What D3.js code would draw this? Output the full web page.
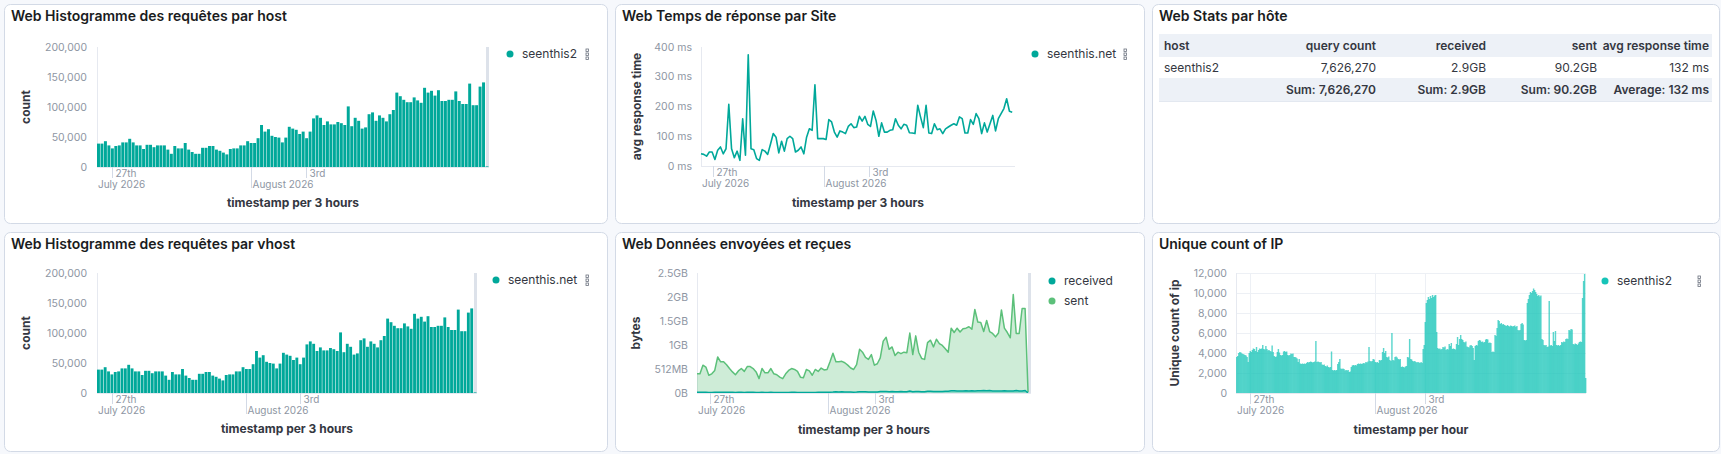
<!DOCTYPE html>
<html>
<head>
<meta charset="utf-8">
<script src="https://cdn.jsdelivr.net/npm/d3@7"></script>
<style>
body { margin: 0; background: #f6f8fc; }
svg text { font-family: Inter, "Noto Sans", sans-serif; }
</style>
</head>
<body>
<svg id="dash" width="1721" height="454"></svg>
<script>
// 3-hour buckets, starting 26 July 2026 11:00
var requestCounts = [39000, 39000, 43000, 36000, 31000, 35000, 36000, 41000, 41000, 47000,
    41000, 36000, 36000, 30000, 37000, 37000, 33000, 36000, 36000, 36000,
    29000, 22000, 35000, 31000, 31000, 40000, 29000, 25000, 22000, 22000,
    32000, 32000, 35000, 35000, 29000, 27000, 24000, 21000, 30000, 31000,
    31000, 36000, 36000, 43000, 40000, 40000, 48000, 70000, 59000, 63000,
    52000, 50000, 49000, 41000, 49000, 67000, 64000, 62000, 55000, 59000,
    48000, 59000, 81000, 86000, 82000, 70000, 76000, 71000, 71000, 75000,
    73000, 70000, 101000, 68000, 82000, 77000, 64000, 66000, 88000, 91000,
    77000, 86000, 82000, 76000, 88000, 95000, 124000, 118000, 112000, 108000,
    108000, 116000, 111000, 107000, 132000, 124000, 127000, 119000, 128000, 110000,
    110000, 112000, 112000, 126000, 110000, 105000, 105000, 139000, 103000, 103000,
    134000, 141000, 1000];

var responseTimes = [41, 39, 33, 47, 47, 22, 53, 64, 41, 58,
    207, 58, 28, 50, 19, 159, 36, 374, 58, 55,
    25, 19, 55, 50, 39, 73, 109, 97, 44, 83,
    50, 92, 100, 92, 47, 53, 64, 41, 97, 125,
    120, 273, 92, 92, 92, 89, 156, 148, 114, 97,
    118, 114, 109, 133, 142, 129, 131, 167, 151, 167,
    140, 133, 185, 153, 100, 145, 114, 114, 120, 122,
    159, 137, 125, 140, 137, 112, 111, 109, 204, 165,
    129, 204, 111, 109, 142, 122, 125, 109, 125, 131,
    137, 142, 137, 165, 159, 111, 111, 156, 140, 176,
    159, 109, 145, 114, 142, 170, 118, 159, 176, 193,
    226, 184, 181];

// GiB per bucket
var sentBytes = [0.40, 0.40, 0.58, 0.54, 0.37, 0.40, 0.47, 0.75, 0.65, 0.65,
    0.59, 0.51, 0.44, 0.38, 0.46, 0.51, 0.45, 0.55, 0.55, 0.51,
    0.44, 0.30, 0.51, 0.42, 0.42, 0.51, 0.40, 0.38, 0.33, 0.30,
    0.40, 0.47, 0.51, 0.49, 0.45, 0.33, 0.32, 0.49, 0.46, 0.37,
    0.49, 0.45, 0.52, 0.48, 0.49, 0.65, 0.83, 0.65, 0.65, 0.66,
    0.63, 0.58, 0.52, 0.49, 0.59, 0.91, 0.85, 0.74, 0.70, 0.80,
    0.58, 0.61, 0.73, 1.08, 1.16, 0.91, 0.96, 0.78, 0.85, 0.82,
    0.85, 0.84, 1.25, 0.80, 1.19, 0.85, 0.72, 0.70, 1.05, 1.10,
    0.96, 1.12, 1.03, 0.99, 0.92, 0.85, 1.35, 1.26, 1.35, 1.27,
    1.34, 1.35, 1.38, 1.33, 1.74, 1.48, 1.47, 1.28, 1.51, 1.28,
    1.24, 1.17, 1.25, 1.73, 1.35, 1.26, 1.15, 2.05, 1.24, 1.24,
    1.76, 1.76, 0.02];

var receivedBytes = [0.016, 0.015, 0.017, 0.014, 0.012, 0.013, 0.014, 0.016, 0.016, 0.018,
    0.016, 0.014, 0.014, 0.012, 0.014, 0.015, 0.013, 0.014, 0.014, 0.014,
    0.012, 0.009, 0.014, 0.012, 0.012, 0.016, 0.012, 0.010, 0.009, 0.009,
    0.013, 0.013, 0.014, 0.014, 0.012, 0.011, 0.010, 0.009, 0.012, 0.012,
    0.012, 0.014, 0.014, 0.017, 0.016, 0.016, 0.019, 0.027, 0.023, 0.024,
    0.020, 0.020, 0.019, 0.016, 0.019, 0.026, 0.025, 0.024, 0.021, 0.023,
    0.019, 0.023, 0.031, 0.033, 0.032, 0.027, 0.029, 0.027, 0.027, 0.029,
    0.028, 0.027, 0.039, 0.026, 0.032, 0.030, 0.025, 0.026, 0.034, 0.035,
    0.030, 0.033, 0.032, 0.029, 0.034, 0.037, 0.048, 0.046, 0.043, 0.042,
    0.042, 0.045, 0.043, 0.046, 0.042, 0.049, 0.048, 0.050, 0.047, 0.050,
    0.043, 0.043, 0.044, 0.043, 0.049, 0.043, 0.041, 0.040, 0.054, 0.040,
    0.040, 0.052, 0.002];

// hourly buckets
var uniqueIps = [
    3600, 3700, 4000, 4100, 4050, 3950, 3900, 3850, 3800, 3750, 3600, 3100, 4000, 4200, 4100, 4300, 4450, 4400, 4200, 4600, 4100, 4300, 4450, 4400,
    4450, 4800, 4400, 4350, 4700, 4400, 4250, 4300, 4200, 4150, 4750, 4100, 3700, 3600, 3650, 4100, 4400, 4050, 3800, 3750, 3800, 4150, 4200, 4100,
    4150, 3800, 3750, 3800, 3950, 3900, 3950, 3600, 3600, 3550, 3450, 3100, 3400, 2950, 2900, 2950, 2900, 2950, 2900, 3000, 3100, 3050, 3100, 3150,
    3100, 3050, 3100, 3150, 5200, 3100, 3150, 3100, 3050, 3100, 2850, 2800, 2850, 2700, 2650, 2750, 2600, 2550, 2600, 4150, 2300, 2250, 2300, 2250,
    2300, 2900, 3100, 3400, 2450, 2400, 2450, 2400, 2250, 2300, 2250, 2300, 2100, 2150, 2600, 2750, 2800, 2750, 2800, 2750, 2900, 2950, 2900, 2950,
    2900, 2950, 3000, 2950, 3100, 3050, 3150, 4600, 3200, 3150, 3200, 3400, 3350, 3100, 3050, 3100, 3000, 3300, 3250, 3300, 4100, 4500, 4000, 4200,
    3600, 3550, 3650, 3300, 3200, 6000, 3300, 3250, 3600, 3650, 3550, 3400, 3350, 3400, 2600, 2650, 2600, 2550, 2650, 2700, 3600, 3550, 5400, 3400,
    3350, 3200, 3150, 3200, 3100, 3050, 3100, 3050, 3000, 3100, 3000, 4400, 4800, 7100, 9000, 9300, 9600, 9400, 9700, 9500, 9800, 9600, 9750, 9800,
    6100, 4500, 4400, 4450, 4350, 4400, 4600, 4550, 4650, 4300, 4400, 4350, 4900, 4700, 5000, 4400, 4450, 4400, 4350, 4900, 5600, 4800, 5400, 5800,
    5400, 5300, 5100, 5050, 5150, 4650, 4600, 4550, 4750, 4800, 4700, 4500, 3300, 4700, 4800, 4750, 5200, 5300, 5250, 5100, 5150, 5050, 5100, 5350,
    5400, 5350, 5000, 5050, 5000, 4100, 4150, 4100, 5800, 5700, 6500, 7300, 7200, 6900, 7000, 6850, 6900, 6800, 6750, 6700, 6800, 6700, 6650, 6750,
    6700, 6650, 6700, 6750, 6600, 6700, 6300, 6250, 6300, 6900, 7000, 6850, 5300, 5250, 5300, 9000, 9400, 9800, 10100, 10000, 10200, 10450, 10300, 10100,
    9900, 9700, 9800, 9650, 9750, 5400, 5300, 4800, 4750, 4800, 4600, 4650, 9200, 4750, 4800, 4700, 6100, 5200, 6200, 4800, 4750, 4800, 4700, 4800,
    5100, 5050, 5150, 5100, 5400, 5450, 5400, 6300, 6250, 6400, 6350, 4900, 4850, 4950, 4900, 4800, 4950, 5100, 5150, 5100, 9500, 11200, 11900, 1500];

var countTicks = [0, 50000, 100000, 150000, 200000];
var msTicks = [0, 100, 200, 300, 400];
var byteTicks = [0, 0.5, 1, 1.5, 2, 2.5];
var byteTickLabels = ["0B", "512MB", "1GB", "1.5GB", "2GB", "2.5GB"];
var ipTicks = [0, 2000, 4000, 6000, 8000, 10000, 12000];

var dayTicks = [Date.UTC(2026, 6, 27), Date.UTC(2026, 7, 3)];
var dayTickLabels = ["27th", "3rd"];
var monthTicks = [Date.UTC(2026, 6, 1), Date.UTC(2026, 7, 1)];
var monthTickLabels = ["July 2026", "August 2026"];

var tableColumns = ["host", "query count", "received", "sent", "avg response time"];
var tableRow = ["seenthis2", "7,626,270", "2.9GB", "90.2GB", "132 ms"];
var tableFooter = ["", "Sum: 7,626,270", "Sum: 2.9GB", "Sum: 90.2GB", "Average: 132 ms"];

var HOUR = 3600 * 1000;
var start = Date.UTC(2026, 6, 26, 11);

var barColor = "#00a89a";
var sentColor = "#5cc07a";
var ipColor = "#17c4b8";
var tickColor = "#8e96a3";
var textColor = "#343741";

var svg = d3.select("#dash");

function panel(x, y, w, h, title) {
    svg.append("rect")
        .attr("x", x + 0.5).attr("y", y + 0.5)
        .attr("width", w).attr("height", h)
        .attr("rx", 6)
        .attr("fill", "#fff")
        .attr("stroke", "#d3dae6");
    svg.append("text")
        .attr("x", x + 7).attr("y", y + 17)
        .attr("font-size", 14).attr("font-weight", 600)
        .attr("fill", "#1a1c21")
        .text(title);
}

function timeScale(left, right, hours) {
    return d3.scaleUtc()
        .domain([start, start + hours * HOUR])
        .range([left, right]);
}

function timeAxis(x, bottom, gridTop) {
    var left = x.range()[0];
    svg.append("line")
        .attr("x1", left).attr("x2", x.range()[1])
        .attr("y1", bottom + 0.5).attr("y2", bottom + 0.5)
        .attr("stroke", "#e6e9f0");
    dayTicks.forEach(function(d, i) {
        var px = Math.round(x(d)) + 0.5;
        if (gridTop !== undefined) {
            svg.append("line").attr("x1", px).attr("x2", px)
                .attr("y1", gridTop).attr("y2", bottom)
                .attr("stroke", "#edf0f5");
        }
        svg.append("line").attr("x1", px).attr("x2", px)
            .attr("y1", bottom).attr("y2", bottom + 11)
            .attr("stroke", "#d3dae6");
        svg.append("text")
            .attr("x", px + 3).attr("y", bottom + 10)
            .attr("font-size", 10).attr("fill", tickColor)
            .text(dayTickLabels[i]);
    });
    monthTicks.forEach(function(d, i) {
        var px = x(d);
        if (px > left) {
            px = Math.round(px) + 0.5;
            if (gridTop !== undefined) {
                svg.append("line").attr("x1", px).attr("x2", px)
                    .attr("y1", gridTop).attr("y2", bottom)
                    .attr("stroke", "#edf0f5");
            }
            svg.append("line").attr("x1", px).attr("x2", px)
                .attr("y1", bottom).attr("y2", bottom + 21)
                .attr("stroke", "#d3dae6");
        } else {
            px = left;
        }
        svg.append("text")
            .attr("x", px + 1).attr("y", bottom + 21)
            .attr("font-size", 10).attr("fill", tickColor)
            .text(monthTickLabels[i]);
    });
}

function yAxis(y, ticks, labels, right, left, gridRight) {
    svg.selectAll(null)
        .data(ticks)
        .enter()
        .append("text")
        .attr("x", right)
        .attr("y", function(d) { return y(d); })
        .attr("dy", "0.35em")
        .attr("text-anchor", "end")
        .attr("font-size", 10.5)
        .attr("fill", tickColor)
        .text(function(d, i) { return labels(d, i); });
    if (gridRight !== undefined) {
        svg.selectAll(null)
            .data(ticks)
            .enter()
            .append("line")
            .attr("x1", left).attr("x2", gridRight)
            .attr("y1", function(d) { return Math.round(y(d)) + 0.5; })
            .attr("y2", function(d) { return Math.round(y(d)) + 0.5; })
            .attr("stroke", "#edf0f5");
    }
    svg.append("line")
        .attr("x1", left + 0.5).attr("x2", left + 0.5)
        .attr("y1", y.range()[1]).attr("y2", y.range()[0])
        .attr("stroke", "#e6e9f0");
}

function axisTitles(cx, cy, yTitle, xCenter, xBaseline, xTitle) {
    svg.append("text")
        .attr("transform", "translate(" + cx + "," + cy + ") rotate(-90)")
        .attr("text-anchor", "middle")
        .attr("dy", "0.35em")
        .attr("font-size", 12).attr("font-weight", 700)
        .attr("fill", textColor)
        .text(yTitle);
    svg.append("text")
        .attr("x", xCenter).attr("y", xBaseline)
        .attr("text-anchor", "middle")
        .attr("font-size", 12).attr("font-weight", 700)
        .attr("fill", textColor)
        .text(xTitle);
}

function legend(x, y, items, colors, menuX) {
    items.forEach(function(name, i) {
        svg.append("circle")
            .attr("cx", x).attr("cy", y + i * 20)
            .attr("r", 3.5)
            .attr("fill", colors[i]);
        svg.append("text")
            .attr("x", x + 12).attr("y", y + i * 20)
            .attr("dy", "0.35em")
            .attr("font-size", 12).attr("fill", textColor)
            .text(name);
    });
    if (menuX !== undefined) {
        [-4, 0, 4].forEach(function(o) {
            svg.append("rect")
                .attr("x", menuX - 1).attr("y", y + o - 1)
                .attr("width", 2.4).attr("height", 2.4)
                .attr("fill", "none")
                .attr("stroke", "#69707d")
                .attr("stroke-width", 0.8);
        });
    }
}

function endZone(x, y) {
    var r = x.range()[1];
    svg.append("rect")
        .attr("x", r - 3).attr("y", y.range()[1])
        .attr("width", 3).attr("height", y.range()[0] - y.range()[1])
        .attr("fill", "#dde2ea");
}

// panel frames
panel(4, 4, 603, 219, "Web Histogramme des requêtes par host");
panel(615, 4, 529, 219, "Web Temps de réponse par Site");
panel(1152, 4, 567, 219, "Web Stats par hôte");
panel(4, 232, 603, 219, "Web Histogramme des requêtes par vhost");
panel(615, 232, 529, 219, "Web Données envoyées et reçues");
panel(1152, 232, 567, 219, "Unique count of IP");

// histogram of requests (host / vhost)
function histogram(left, right, top, bottom, seriesName, legendX) {
    var x = timeScale(left, right, 339);
    var y = d3.scaleLinear().domain([0, 200000]).range([bottom, top]);
    yAxis(y, countTicks, d3.format(","), left - 10, left);
    endZone(x, y);
    svg.append("g")
        .selectAll("rect")
        .data(requestCounts)
        .enter()
        .append("rect")
        .attr("x", function(d, i) { return x(start + i * 3 * HOUR); })
        .attr("width", function(d, i) {
            return x(start + (i + 1) * 3 * HOUR) - x(start + i * 3 * HOUR) - 0.5;
        })
        .attr("y", function(d) { return y(d); })
        .attr("height", function(d) { return bottom - y(d); })
        .attr("fill", barColor);
    timeAxis(x, bottom);
    axisTitles(26, (top + bottom) / 2, "count", (left + right) / 2, bottom + 40, "timestamp per 3 hours");
    legend(legendX, top + 7, [seriesName], [barColor], 587);
}

histogram(97, 489, 47, 167, "seenthis2", 510);
histogram(97, 477, 273, 393, "seenthis.net", 496);

// response time line
(function() {
    var left = 701, right = 1015, top = 47, bottom = 166;
    var x = timeScale(left, right, 339);
    var y = d3.scaleLinear().domain([0, 400]).range([bottom, top]);
    yAxis(y, msTicks, function(d) { return d + " ms"; }, left - 9, left);
    var line = d3.line()
        .x(function(d, i) { return x(start + i * 3 * HOUR); })
        .y(function(d) { return y(d); });
    svg.append("path")
        .datum(responseTimes)
        .attr("d", line)
        .attr("fill", "none")
        .attr("stroke", barColor)
        .attr("stroke-width", 1.6)
        .attr("stroke-linejoin", "round");
    timeAxis(x, bottom);
    axisTitles(637, (top + bottom) / 2, "avg response time", (left + right) / 2, bottom + 41, "timestamp per 3 hours");
    legend(1035, 54, ["seenthis.net"], [barColor], 1125);
})();

// bytes sent / received
(function() {
    var left = 697, right = 1031, top = 273, bottom = 393;
    var x = timeScale(left, right, 339);
    var y = d3.scaleLinear().domain([0, 2.5]).range([bottom, top]);
    yAxis(y, byteTicks, function(d, i) { return byteTickLabels[i]; }, left - 9, left);
    endZone(x, y);
    var px = function(d, i) { return x(start + i * 3 * HOUR); };
    var area = d3.area().x(px).y0(bottom).y1(function(d) { return y(d); });
    var line = d3.line().x(px).y(function(d) { return y(d); });
    svg.append("path").datum(sentBytes).attr("d", area)
        .attr("fill", sentColor).attr("fill-opacity", 0.3);
    svg.append("path").datum(sentBytes).attr("d", line)
        .attr("fill", "none").attr("stroke", sentColor).attr("stroke-width", 1.5)
        .attr("stroke-linejoin", "round");
    svg.append("path").datum(receivedBytes).attr("d", area)
        .attr("fill", barColor).attr("fill-opacity", 0.3);
    svg.append("path").datum(receivedBytes).attr("d", line)
        .attr("fill", "none").attr("stroke", barColor).attr("stroke-width", 1.5);
    timeAxis(x, bottom);
    axisTitles(636, (top + bottom) / 2, "bytes", (left + right) / 2, bottom + 41, "timestamp per 3 hours");
    legend(1052, 281, ["received", "sent"], [barColor, sentColor]);
})();

// unique IPs per hour
(function() {
    var left = 1236, right = 1586, top = 273, bottom = 393;
    var x = timeScale(left, right, 336);
    var y = d3.scaleLinear().domain([0, 12000]).range([bottom, top]);
    yAxis(y, ipTicks, d3.format(","), left - 9, left, right);
    timeAxis(x, bottom, top);
    // slight overlap between neighbouring hourly bars gives the banded look
    svg.append("g")
        .selectAll("rect")
        .data(uniqueIps)
        .enter()
        .append("rect")
        .attr("x", function(d, i) { return x(start + i * HOUR); })
        .attr("width", function(d, i) { return x(start + (i + 1) * HOUR) - x(start + i * HOUR) + 0.4; })
        .attr("y", function(d) { return y(d); })
        .attr("height", function(d) { return bottom - y(d); })
        .attr("fill", ipColor)
        .attr("fill-opacity", 0.7);
    axisTitles(1175, (top + bottom) / 2, "Unique count of ip", (left + right) / 2, bottom + 41, "timestamp per hour");
    legend(1605, 281, ["seenthis2"], [ipColor], 1699);
})();

// stats table
(function() {
    var left = 1159, right = 1712;
    var colX = [1164, 1376, 1486, 1597, 1709];
    var rows = [
        { top: 34, h: 23, cells: tableColumns, bg: "#edf1f7", weight: 600 },
        { top: 57, h: 21, cells: tableRow, bg: "#fff", weight: 400 },
        { top: 78, h: 23, cells: tableFooter, bg: "#edf1f7", weight: 600 }
    ];
    rows.forEach(function(r) {
        svg.append("rect")
            .attr("x", left).attr("y", r.top)
            .attr("width", right - left).attr("height", r.h)
            .attr("fill", r.bg);
        svg.append("line")
            .attr("x1", left).attr("x2", right)
            .attr("y1", r.top + r.h + 0.5).attr("y2", r.top + r.h + 0.5)
            .attr("stroke", "#e3e8f0");
        r.cells.forEach(function(c, i) {
            svg.append("text")
                .attr("x", colX[i]).attr("y", r.top + r.h / 2)
                .attr("dy", "0.35em")
                .attr("text-anchor", i === 0 ? "start" : "end")
                .attr("font-size", 12).attr("font-weight", r.weight)
                .attr("fill", textColor)
                .text(c);
        });
    });
})();
</script>
</body>
</html>
